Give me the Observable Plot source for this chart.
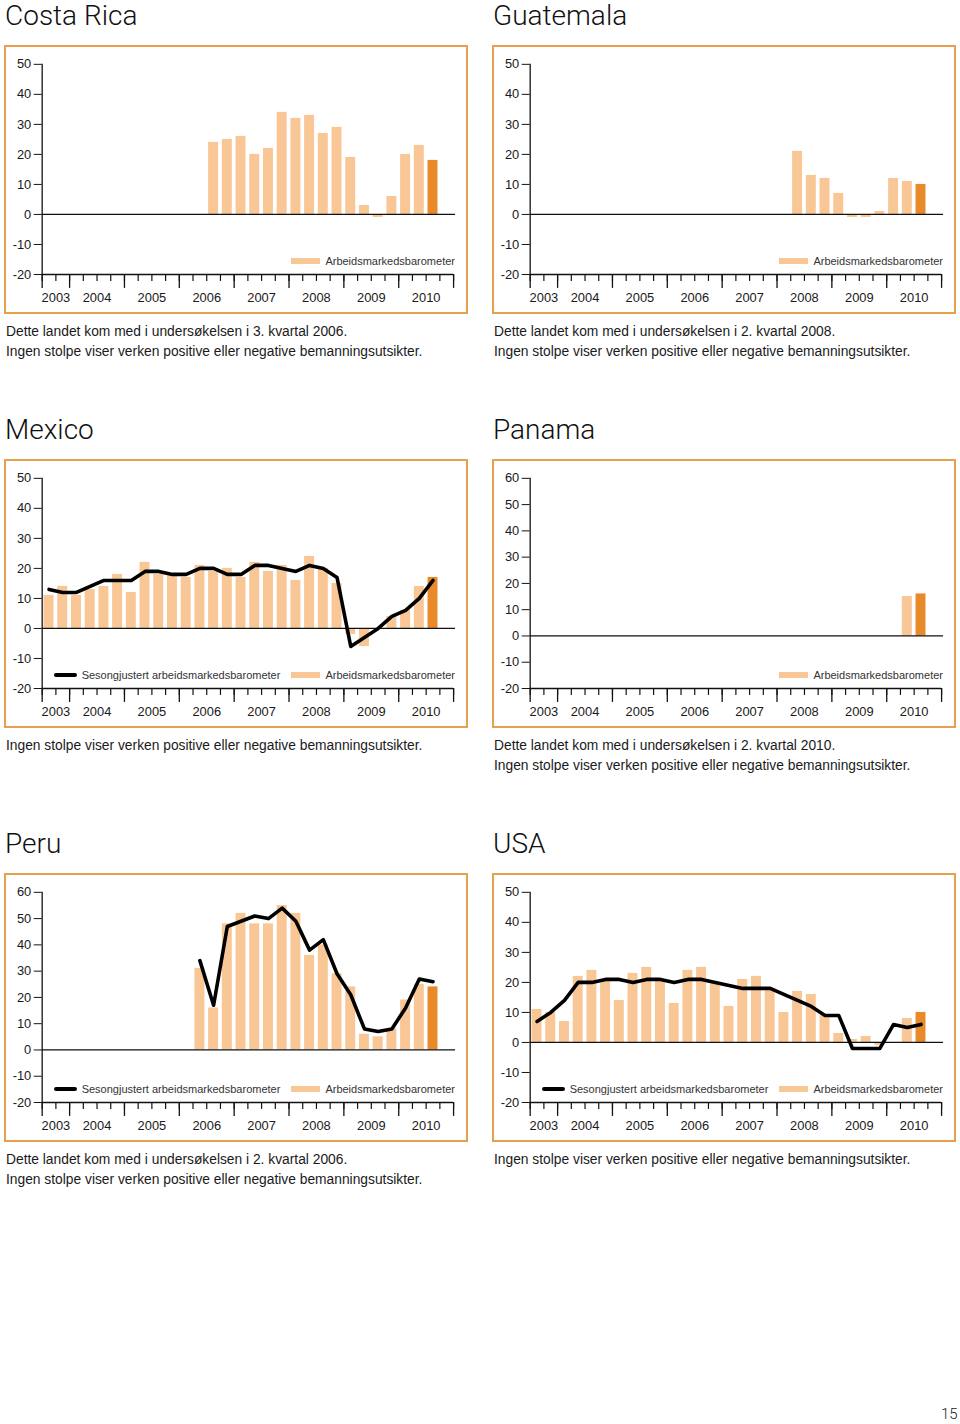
<!DOCTYPE html>
<html>
<head>
<meta charset="utf-8">
<script src="https://cdn.jsdelivr.net/npm/d3@7"></script>
<script src="https://cdn.jsdelivr.net/npm/@observablehq/plot@0.6"></script>
<style>
  body { margin: 0; background: #fff; }
  #page { position: relative; width: 960px; height: 1424px; overflow: hidden; background: #fff;
          font-family: "Liberation Sans", Arial, sans-serif; color: #1a1a1a; }
  .title { position: absolute; font-family: Roboto, sans-serif; font-weight: 300; font-size: 28px;
           line-height: 28px; white-space: nowrap; color: #111; }
  .box { position: absolute; width: 464px; height: 269px; box-sizing: border-box; border: 2px solid #e9a04d; }
  .box svg { position: absolute; left: -2px; top: -2px; }
  .legend { position: absolute; right: 11px; top: 208px; height: 12px; display: flex; align-items: center;
            font-size: 11px; line-height: 12px; color: #333; white-space: nowrap; }
  .ls { display: inline-block; width: 23px; height: 4px; background: #000; border-radius: 2px; margin-right: 5px; }
  .bs { display: inline-block; width: 29px; height: 6px; margin-right: 5px; margin-left: 11px; }
  .caption { position: absolute; font-size: 13.8px; line-height: 20px; white-space: nowrap; color: #1a1a1a; }
  .pagenum { position: absolute; left: 941px; top: 1405px; font-family: Roboto, sans-serif; font-weight: 300; font-size: 15px; }
</style>
</head>
<body>
<div id="page"></div>
<script>
// ---------- data ----------
const years = ["2003", "2004", "2005", "2006", "2007", "2008", "2009", "2010"];
const yearQuarterCounts = [2, 4, 4, 4, 4, 4, 4, 4]; // 2003 starts in 3rd quarter
const yTicks50 = [-20, -10, 0, 10, 20, 30, 40, 50];
const yTicks60 = [-20, -10, 0, 10, 20, 30, 40, 50, 60];

const countryNames = ["Costa Rica", "Guatemala", "Mexico", "Panama", "Peru", "USA"];
const legendBar = "Arbeidsmarkedsbarometer";
const legendLine = "Sesongjustert arbeidsmarkedsbarometer";
const noBarsNote = "Ingen stolpe viser verken positive eller negative bemanningsutsikter.";

// Costa Rica: from 2006 Q3
const costaRicaStart = "2006K3";
const costaRicaBarometer = [24, 25, 26, 20, 22, 34, 32, 33, 27, 29, 19, 3, -1, 6, 20, 23, 18];
const costaRicaCaption = ["Dette landet kom med i undersøkelsen i 3. kvartal 2006.", noBarsNote];

// Guatemala: from 2008 Q2
const guatemalaStart = "2008K2";
const guatemalaBarometer = [21, 13, 12, 7, -1, -1, 1, 12, 11, 10];
const guatemalaCaption = ["Dette landet kom med i undersøkelsen i 2. kvartal 2008.", noBarsNote];

// Mexico: from 2003 Q3
const mexicoStart = "2003K3";
const mexicoBarometer = [11, 14, 11, 13, 14, 18, 12, 22, 18, 18, 17, 21, 19, 20, 17, 22, 19, 21, 16, 24, 20, 15, -2, -6, 0, 4, 6, 14, 17];
const mexicoSeasonal  = [13, 12, 12, 14, 16, 16, 16, 19, 19, 18, 18, 20, 20, 18, 18, 21, 21, 20, 19, 21, 20, 17, -6, -3, 0, 4, 6, 10, 16];
const mexicoCaption = [noBarsNote];

// Panama: from 2010 Q2
const panamaStart = "2010K2";
const panamaBarometer = [15, 16];
const panamaCaption = ["Dette landet kom med i undersøkelsen i 2. kvartal 2010.", noBarsNote];

// Peru: from 2006 Q2
const peruStart = "2006K2";
const peruBarometer = [31, 16, 48, 52, 48, 48, 55, 52, 36, 40, 29, 24, 6, 5, 8, 19, 25, 24];
const peruSeasonal  = [34, 17, 47, 49, 51, 50, 54, 49, 38, 42, 29, 21, 8, 7, 8, 16, 27, 26];
const peruCaption = ["Dette landet kom med i undersøkelsen i 2. kvartal 2006.", noBarsNote];

// USA: from 2003 Q3
const usaStart = "2003K3";
const usaBarometer = [11, 10, 7, 22, 24, 21, 14, 23, 25, 21, 13, 24, 25, 20, 12, 21, 22, 18, 10, 17, 16, 9, 3, 1, 2, -1, 0, 8, 10];
const usaSeasonal  = [7, 10, 14, 20, 20, 21, 21, 20, 21, 21, 20, 21, 21, 20, 19, 18, 18, 18, 16, 14, 12, 9, 9, -2, -2, -2, 6, 5, 6];
const usaCaption = [noBarsNote];

const pageNumber = "15";

// ---------- colours ----------
const lightBar = "#f9c795";
const darkBar = "#e98a2a";

// ---------- derived categories ----------
const quarterLabels = [];
years.forEach((y, k) => {
  const n = yearQuarterCounts[k];
  for (let q = 4 - n + 1; q <= 4; q++) quarterLabels.push(y + "K" + q);
});
const nQuarters = quarterLabels.length;
const quarterEdges = d3.range(0, nQuarters + 1);
const yearEdges = [0];
yearQuarterCounts.forEach(c => yearEdges.push(yearEdges[yearEdges.length - 1] + c));
const yearCenters = years.map((y, k) => (yearEdges[k] + yearEdges[k + 1]) / 2);

const panels = [
  {name: countryNames[0], start: costaRicaStart, bars: costaRicaBarometer, seasonal: null, yTicks: yTicks50, caption: costaRicaCaption},
  {name: countryNames[1], start: guatemalaStart, bars: guatemalaBarometer, seasonal: null, yTicks: yTicks50, caption: guatemalaCaption},
  {name: countryNames[2], start: mexicoStart, bars: mexicoBarometer, seasonal: mexicoSeasonal, yTicks: yTicks50, caption: mexicoCaption},
  {name: countryNames[3], start: panamaStart, bars: panamaBarometer, seasonal: null, yTicks: yTicks60, caption: panamaCaption},
  {name: countryNames[4], start: peruStart, bars: peruBarometer, seasonal: peruSeasonal, yTicks: yTicks60, caption: peruCaption},
  {name: countryNames[5], start: usaStart, bars: usaBarometer, seasonal: usaSeasonal, yTicks: yTicks50, caption: usaCaption}
];

// ---------- layout ----------
const page = document.getElementById("page");
const colLeft = [4, 492];
const rowTop = [45, 459, 873];

function makeChart(p) {
  const s = quarterLabels.indexOf(p.start);
  const barData = p.bars.map((v, k) => ({q: s + k, v}));
  const latest = s + p.bars.length - 1;
  const lineData = p.seasonal ? p.seasonal.map((v, k) => ({q: s + k, v})) : [];
  const yMax = p.yTicks[p.yTicks.length - 1];
  const yMin = p.yTicks[0];
  return Plot.plot({
    width: 464, height: 269,
    marginLeft: 38, marginRight: 11, marginTop: 19, marginBottom: 38,
    x: {domain: [0, nQuarters], label: null},
    y: {domain: [yMin, yMax], label: null},
    style: {fontFamily: '"Liberation Sans", Arial, sans-serif', fontSize: "13px", color: "#1a1a1a", background: "transparent", overflow: "visible"},
    marks: [
      Plot.rectY(barData, {x1: "q", x2: d => d.q + 1, y: "v", insetLeft: 1.9, insetRight: 1.9,
        fill: d => d.q === latest ? darkBar : lightBar}),
      Plot.ruleY([0], {stroke: "#111", strokeWidth: 1.3, insetRight: -2}),
      Plot.ruleY([yMin], {stroke: "#111", strokeWidth: 1.3}),
      Plot.ruleX([0], {stroke: "#111", strokeWidth: 1.3}),
      Plot.line(lineData, {x: d => d.q + 0.5, y: "v", stroke: "#000", strokeWidth: 3.6,
        strokeLinejoin: "round", strokeLinecap: "round"}),
      Plot.axisY(p.yTicks, {tickSize: 8, tickPadding: 3, fontSize: 13, label: null, stroke: "#111",
        tickFormat: d => String(d)}),
      Plot.axisX(quarterEdges, {tickSize: 7, tickFormat: () => "", label: null, stroke: "#111", strokeWidth: 1.2}),
      Plot.axisX(yearEdges, {tickSize: 14, tickFormat: () => "", label: null, stroke: "#111", strokeWidth: 1.3}),
      Plot.axisX(yearCenters, {tickSize: 0, tickPadding: 19, fontSize: 13, label: null,
        tickFormat: (d) => years[yearCenters.indexOf(d)]})
    ]
  });
}

panels.forEach((p, k) => {
  const left = colLeft[k % 2];
  const top = rowTop[Math.floor(k / 2)];

  const title = document.createElement("div");
  title.className = "title";
  title.style.left = (left + 1) + "px";
  title.style.top = (top - 43) + "px";
  title.textContent = p.name;
  page.appendChild(title);

  const box = document.createElement("div");
  box.className = "box";
  box.style.left = left + "px";
  box.style.top = top + "px";
  box.appendChild(makeChart(p));

  const legend = document.createElement("div");
  legend.className = "legend";
  if (p.seasonal) {
    const ls = document.createElement("span"); ls.className = "ls"; legend.appendChild(ls);
    const lt = document.createElement("span"); lt.textContent = legendLine; legend.appendChild(lt);
  }
  const bs = document.createElement("span"); bs.className = "bs"; bs.style.background = lightBar;
  if (!p.seasonal) bs.style.marginLeft = "0px";
  legend.appendChild(bs);
  const bt = document.createElement("span"); bt.textContent = legendBar; legend.appendChild(bt);
  box.appendChild(legend);
  page.appendChild(box);

  const cap = document.createElement("div");
  cap.className = "caption";
  cap.style.left = (left + 2) + "px";
  cap.style.top = (top + 277) + "px";
  cap.innerHTML = p.caption.map(t => t.replace(/&/g, "&amp;").replace(/</g, "&lt;")).join("<br>");
  page.appendChild(cap);
});

const pn = document.createElement("div");
pn.className = "pagenum";
pn.textContent = pageNumber;
page.appendChild(pn);
</script>
</body>
</html>
